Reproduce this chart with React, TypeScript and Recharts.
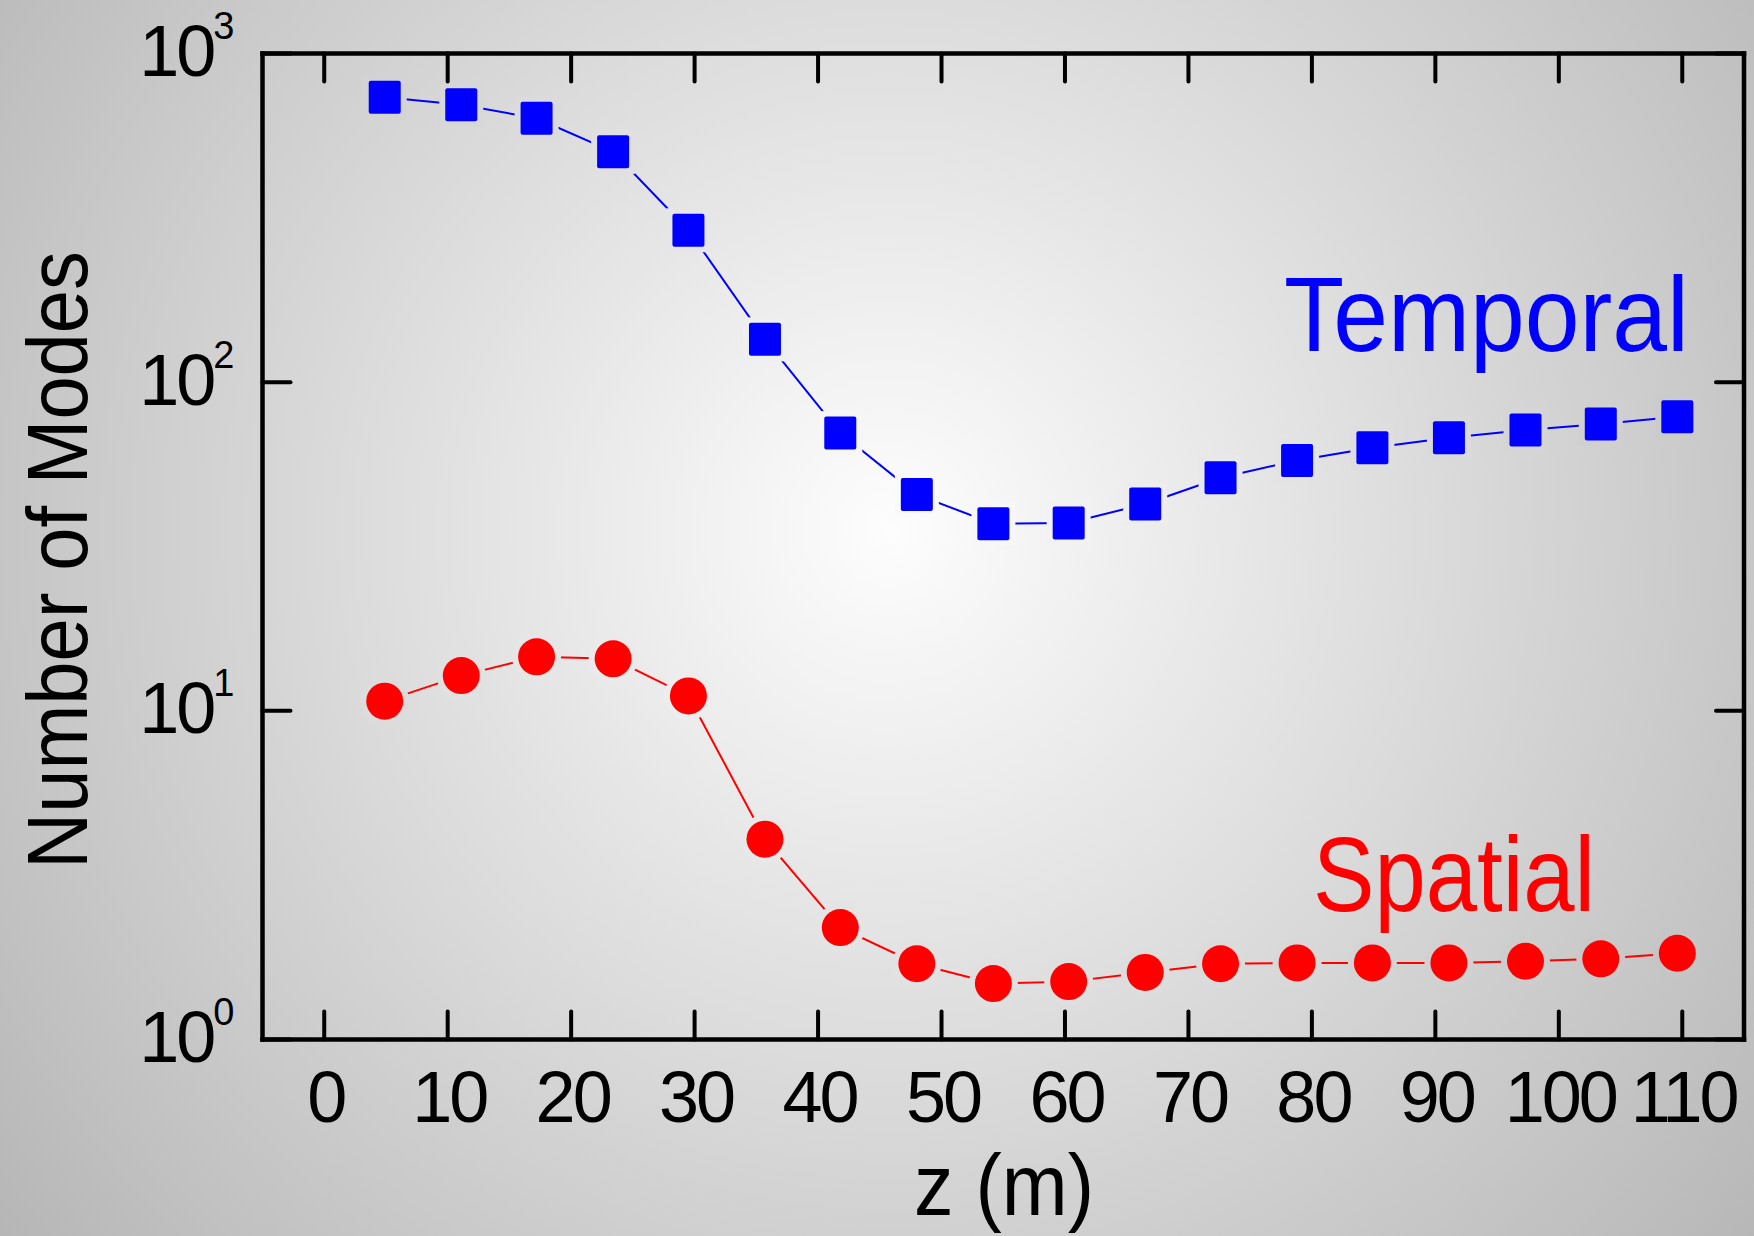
import React from 'react';
import { LineChart, Line, XAxis, YAxis } from 'recharts';

// ---- data ----
const zPositions = [4.9, 11.1, 17.2, 23.4, 29.5, 35.7, 41.8, 48.0, 54.2, 60.3, 66.5, 72.6, 78.8, 84.9, 91.1, 97.3, 103.4, 109.6];
const temporalModes = [736, 698, 635, 502, 290, 135, 70, 45.5, 37.1, 37.3, 42.6, 51.2, 57.8, 63.2, 67.8, 71.5, 74.6, 78.5];
const spatialModes = [10.7, 12.8, 14.6, 14.4, 11.1, 4.07, 2.19, 1.70, 1.48, 1.50, 1.60, 1.70, 1.71, 1.71, 1.71, 1.73, 1.76, 1.83];
const xTicks = [0, 10, 20, 30, 40, 50, 60, 70, 80, 90, 100, 110];
const yTicks = [1, 10, 100, 1000];
const xDomain = [-5, 115];
const yDomain = [1, 1000];
const seriesNames = ['Temporal', 'Spatial'];
const xTitle = 'z (m)';
const yTitle = 'Number of Modes';

const data = zPositions.map((z, i) => ({ z, temporal: temporalModes[i], spatial: spatialModes[i] }));

// ---- layout / style ----
const W = 1754;
const H = 1236;
const FONT = '"Liberation Sans", Arial, Helvetica, sans-serif';
const BLUE = '#0000ff';
const RED = '#ff0000';
const TICK_LEN = 28;
const BG_CX = 890;
const BG_CY = 530;
const BG_R = 1200;
const BG_IN = 253;
const BG_OUT = 178;

const bgGray = (x: number, y: number) => {
  const r = Math.min(1, Math.hypot(x - BG_CX, y - BG_CY) / BG_R);
  const g = Math.round(BG_IN + (BG_OUT - BG_IN) * r);
  return `rgb(${g},${g},${g})`;
};

const BottomTick = (props: any) => {
  const { x, y, payload } = props;
  return (
    <g>
      <line x1={x} x2={x} y1={y} y2={y - TICK_LEN} stroke="#000" strokeWidth={4} strokeLinecap="round" />
      <text x={x + 1.5} y={y + 82} textAnchor="middle" fontFamily={FONT} fontSize={72} letterSpacing={-3} fill="#000">
        {payload.value}
      </text>
    </g>
  );
};

const TopTick = (props: any) => {
  const { x, y } = props;
  return <line x1={x} x2={x} y1={y} y2={y + TICK_LEN} stroke="#000" strokeWidth={4} strokeLinecap="round" />;
};

const LeftTick = (props: any) => {
  const { x, y, payload } = props;
  const exp = Math.round(Math.log10(payload.value));
  return (
    <g>
      <line x1={x} x2={x + TICK_LEN} y1={y} y2={y} stroke="#000" strokeWidth={4} strokeLinecap="round" />
      <text x={x - 28} y={y + 22.5} textAnchor="end" fontFamily={FONT} fontSize={72} letterSpacing={-3} fill="#000">
        <tspan>10</tspan>
        <tspan dy={-37} fontSize={38} letterSpacing={0}>{exp}</tspan>
      </text>
    </g>
  );
};

const RightTick = (props: any) => {
  const { x, y } = props;
  return <line x1={x} x2={x - TICK_LEN} y1={y} y2={y} stroke="#000" strokeWidth={4} strokeLinecap="round" />;
};

const SquareDot = (props: any) => {
  const { cx, cy, index } = props;
  if (cx == null || cy == null) return <g key={`sq-${index}`} />;
  const s = 32;
  const pad = 6;
  return (
    <g key={`sq-${index}`}>
      <rect x={cx - s / 2 - pad} y={cy - s / 2 - pad} width={s + 2 * pad} height={s + 2 * pad} fill={bgGray(cx, cy)} />
      <rect x={cx - s / 2} y={cy - s / 2 - 0.5} width={s} height={s + 1} rx={2} fill={BLUE} />
    </g>
  );
};

const CircleDot = (props: any) => {
  const { cx, cy, index } = props;
  if (cx == null || cy == null) return <g key={`ci-${index}`} />;
  const r = 18.5;
  return (
    <g key={`ci-${index}`}>
      <circle cx={cx} cy={cy} r={r + 6} fill={bgGray(cx, cy)} />
      <circle cx={cx} cy={cy} r={r} fill={RED} />
    </g>
  );
};

const axisLineStyle = { stroke: '#000', strokeWidth: 4.5, strokeLinecap: 'square' as const };

export default function App() {
  return (
    <div
      style={{
        position: 'absolute',
        left: 0,
        top: 0,
        width: W,
        height: H,
        background: `radial-gradient(circle ${BG_R}px at ${BG_CX}px ${BG_CY}px, rgb(${BG_IN},${BG_IN},${BG_IN}) 0px, rgb(${BG_OUT},${BG_OUT},${BG_OUT}) ${BG_R}px)`,
        overflow: 'hidden',
      }}
    >
      <div style={{ position: 'absolute', left: 0, top: 0 }}>
        <LineChart width={W} height={H} data={data} margin={{ top: 0, right: 0, bottom: 0, left: 0 }}>
          <XAxis
            xAxisId="b"
            dataKey="z"
            type="number"
            domain={xDomain}
            ticks={xTicks}
            interval={0}
            height={196.5}
            tickSize={0}
            tickMargin={0}
            tickLine={false}
            axisLine={axisLineStyle}
            tick={<BottomTick />}
            allowDataOverflow
          />
          <XAxis
            xAxisId="t"
            orientation="top"
            dataKey="z"
            type="number"
            domain={xDomain}
            ticks={xTicks}
            interval={0}
            height={53.5}
            tickSize={0}
            tickMargin={0}
            tickLine={false}
            axisLine={axisLineStyle}
            tick={<TopTick />}
            allowDataOverflow
          />
          <YAxis
            yAxisId="l"
            scale="log"
            type="number"
            domain={yDomain}
            ticks={yTicks}
            interval={0}
            width={262.5}
            tickSize={0}
            tickMargin={0}
            tickLine={false}
            axisLine={axisLineStyle}
            tick={<LeftTick />}
            allowDataOverflow
          />
          <YAxis
            yAxisId="r"
            orientation="right"
            scale="log"
            type="number"
            domain={yDomain}
            ticks={yTicks}
            interval={0}
            width={10}
            tickSize={0}
            tickMargin={0}
            tickLine={false}
            axisLine={axisLineStyle}
            tick={<RightTick />}
            allowDataOverflow
          />
          <Line
            xAxisId="b"
            yAxisId="l"
            dataKey="temporal"
            type="linear"
            stroke={BLUE}
            strokeWidth={2}
            dot={(p: any) => <SquareDot {...p} key={`sq-${p.index}`} />}
            activeDot={false}
            isAnimationActive={false}
          />
          <Line
            xAxisId="b"
            yAxisId="l"
            dataKey="spatial"
            type="linear"
            stroke={RED}
            strokeWidth={2}
            dot={(p: any) => <CircleDot {...p} key={`ci-${p.index}`} />}
            activeDot={false}
            isAnimationActive={false}
          />
        </LineChart>
      </div>
      <svg
        width={W}
        height={H}
        style={{ position: 'absolute', left: 0, top: 0, pointerEvents: 'none' }}
      >
        <text x={1284} y={351} fontFamily={FONT} fontSize={106} fill={BLUE} textLength={405} lengthAdjust="spacingAndGlyphs">
          {seriesNames[0]}
        </text>
        <text x={1313} y={911} fontFamily={FONT} fontSize={106} fill={RED} textLength={282} lengthAdjust="spacingAndGlyphs">
          {seriesNames[1]}
        </text>
        <text x={1004} y={1215} textAnchor="middle" fontFamily={FONT} fontSize={88} fill="#000" textLength={180} lengthAdjust="spacingAndGlyphs">
          {xTitle}
        </text>
        <text
          x={87}
          y={560}
          textAnchor="middle"
          fontFamily={FONT}
          fontSize={86}
          fill="#000"
          transform="rotate(-90 87 560)"
          textLength={618}
          lengthAdjust="spacingAndGlyphs"
        >
          {yTitle}
        </text>
      </svg>
    </div>
  );
}
